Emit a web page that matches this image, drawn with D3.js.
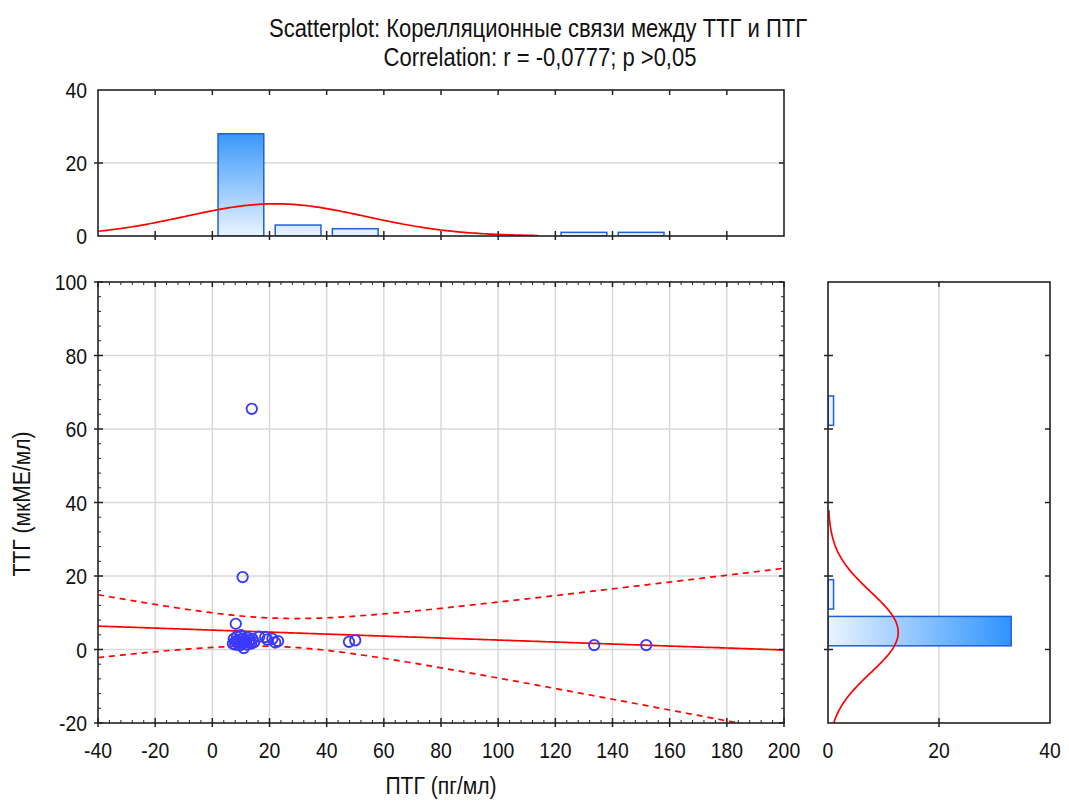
<!DOCTYPE html>
<html>
<head>
<meta charset="utf-8">
<script src="https://cdn.jsdelivr.net/npm/d3@7"></script>
<style>
  html, body { margin: 0; padding: 0; background: #fff; }
  svg text { font-family: "Liberation Sans", Arial, sans-serif; fill: #111; }
</style>
</head>
<body>
<svg id="chart" width="1069" height="801"></svg>
<script>
// ПТГ (pg/ml) and ТТГ (µIU/ml) for each patient
const ptg = [7.2, 7.5, 8.0, 8.3, 8.6, 9.0, 9.3, 9.6, 10.0, 10.2, 10.5, 10.8, 11.0, 11.3, 11.7,
             12.0, 12.4, 12.8, 13.2, 13.6, 14.0, 14.6, 16.4, 18.5, 19.2,
             21.0, 22.0, 23.0, 47.8, 50.0, 133.6, 151.8, 13.8, 10.6, 8.2];
const ttg = [1.6, 2.9, 1.3, 2.3, 3.5, 1.9, 2.7, 1.1, 3.9, 2.1, 1.5, 3.0, 0.4, 2.0, 2.5,
             1.3, 3.2, 1.8, 2.4, 1.6, 2.9, 2.0, 3.5, 3.4, 2.7,
             2.9, 1.9, 2.3, 2.1, 2.5, 1.2, 1.2, 65.5, 19.7, 7.0];
const rValue = -0.0777;

const titleLines = ["Scatterplot: Корелляционные связи между ТТГ и ПТГ",
                    "Correlation: r = -0,0777; p >0,05"];
const xTitle = "ПТГ (пг/мл)";
const yTitle = "ТТГ (мкМЕ/мл)";

const xTicks = [-40, -20, 0, 20, 40, 60, 80, 100, 120, 140, 160, 180, 200];
const yTicks = [-20, 0, 20, 40, 60, 80, 100];
const countTicks = [0, 20, 40];
const xBinWidth = 20, yBinWidth = 10;
const tCrit = 2.0345; // Student t, 0.975, df = 33

const svg = d3.select("#chart");
const defs = svg.append("defs");

// scales
const x = d3.scaleLinear([-40, 200], [98, 784]);
const y = d3.scaleLinear([-20, 100], [723, 282]);
const yTop = d3.scaleLinear([0, 40], [236, 90]);
const xRight = d3.scaleLinear([0, 40], [828, 1050]);

// summary statistics and the least-squares line (slope = r * sy / sx)
const data = ptg.map((v, i) => ({ x: v, y: ttg[i] }));
const n = data.length;
const mx = d3.mean(ptg), my = d3.mean(ttg);
const sx = d3.deviation(ptg), sy = d3.deviation(ttg);
const sxx = d3.sum(ptg, v => (v - mx) ** 2);
const slope = rValue * sy / sx, icpt = my - slope * mx;
const sres = sy * Math.sqrt((1 - rValue * rValue) * (n - 1) / (n - 2));
const normPdf = (v, m, s) => Math.exp(-0.5 * ((v - m) / s) ** 2) / (s * Math.sqrt(2 * Math.PI));
const minCount = 0.12; // fitted curves stop where they meet the axis

// narrow text: Liberation Sans compressed horizontally
const squeeze = 0.88;
function label(g, px, py, str, size, anchor, rot) {
  return g.append("text")
    .attr("transform", `translate(${px},${py})${rot ? ` rotate(${rot})` : ""} scale(${squeeze},1)`)
    .attr("text-anchor", anchor || "middle")
    .style("font-size", size + "px").text(str);
}

// clip paths
function clip(id, x0, y0, x1, y1) {
  defs.append("clipPath").attr("id", id).append("rect")
    .attr("x", x0).attr("y", y0).attr("width", x1 - x0).attr("height", y1 - y0);
}
clip("cMain", 98, 282, 784, 723);
clip("cTop", 98, 90, 784, 236);
clip("cRight", 828, 282, 1050, 723);

// gradients
const gTop = defs.append("linearGradient").attr("id", "gTop")
  .attr("gradientUnits", "userSpaceOnUse")
  .attr("x1", 0).attr("x2", 0).attr("y1", yTop(0)).attr("y2", yTop(28));
gTop.append("stop").attr("offset", 0).attr("stop-color", "#eaf4ff");
gTop.append("stop").attr("offset", 1).attr("stop-color", "#3a98fb");
const gRight = defs.append("linearGradient").attr("id", "gRight")
  .attr("gradientUnits", "userSpaceOnUse")
  .attr("y1", 0).attr("y2", 0).attr("x1", xRight(0)).attr("x2", xRight(33));
gRight.append("stop").attr("offset", 0).attr("stop-color", "#eaf4ff");
gRight.append("stop").attr("offset", 1).attr("stop-color", "#2f93ff");

const grid = "#d9d9d9";

// ---------- title ----------
label(svg, 538, 37, titleLines[0], 25);
label(svg, 540, 66, titleLines[1], 25);

// ticks: major crossing the frame, minor inside
function frameTicks(g, x0, y0, x1, y1, xt, yt, xMinor, yMinor) {
  const t = g.append("g").attr("stroke", "#222");
  xt.forEach(v => {
    t.append("line").attr("x1", v).attr("x2", v).attr("y1", y1 + 4).attr("y2", y1 - 5).attr("stroke-width", 1.5);
    t.append("line").attr("x1", v).attr("x2", v).attr("y1", y0).attr("y2", y0 + 5).attr("stroke-width", 1.5);
  });
  yt.forEach(v => {
    t.append("line").attr("y1", v).attr("y2", v).attr("x1", x0 - 4).attr("x2", x0 + 5).attr("stroke-width", 1.5);
    t.append("line").attr("y1", v).attr("y2", v).attr("x1", x1).attr("x2", x1 - 5).attr("stroke-width", 1.5);
  });
  xMinor.forEach(v => {
    t.append("line").attr("x1", v).attr("x2", v).attr("y1", y1).attr("y2", y1 - 3).attr("stroke-width", 1);
    t.append("line").attr("x1", v).attr("x2", v).attr("y1", y0).attr("y2", y0 + 3).attr("stroke-width", 1);
  });
  yMinor.forEach(v => {
    t.append("line").attr("y1", v).attr("y2", v).attr("x1", x0).attr("x2", x0 + 3).attr("stroke-width", 1);
    t.append("line").attr("y1", v).attr("y2", v).attr("x1", x1).attr("x2", x1 - 3).attr("stroke-width", 1);
  });
  g.append("rect").attr("x", x0).attr("y", y0).attr("width", x1 - x0).attr("height", y1 - y0)
    .attr("fill", "none").attr("stroke", "#222").attr("stroke-width", 1.6);
}

// ---------- main scatter panel ----------
const mainPanel = svg.append("g");
mainPanel.append("g").selectAll("line").data(xTicks.slice(1, -1)).join("line")
  .attr("x1", d => x(d)).attr("x2", d => x(d)).attr("y1", 282).attr("y2", 723)
  .attr("stroke", grid).attr("stroke-width", 1.5);
mainPanel.append("g").selectAll("line").data(yTicks.slice(1, -1)).join("line")
  .attr("y1", d => y(d)).attr("y2", d => y(d)).attr("x1", 98).attr("x2", 784)
  .attr("stroke", grid).attr("stroke-width", 1.5);

const plotArea = mainPanel.append("g").attr("clip-path", "url(#cMain)");
const xs = d3.range(-40, 200.5, 1);
const band = s => d3.line().x(v => x(v))
  .y(v => y(icpt + slope * v + s * tCrit * sres * Math.sqrt(1 / n + (v - mx) ** 2 / sxx)));
plotArea.append("path").datum(xs).attr("d", band(1)).attr("fill", "none")
  .attr("stroke", "#ff0000").attr("stroke-width", 1.7).attr("stroke-dasharray", "6,5");
plotArea.append("path").datum(xs).attr("d", band(-1)).attr("fill", "none")
  .attr("stroke", "#ff0000").attr("stroke-width", 1.7).attr("stroke-dasharray", "6,5");
plotArea.append("path").datum(xs).attr("d", band(0)).attr("fill", "none")
  .attr("stroke", "#ff0000").attr("stroke-width", 1.7);
plotArea.append("g").selectAll("circle").data(data).join("circle")
  .attr("cx", d => x(d.x)).attr("cy", d => y(d.y)).attr("r", 5.2)
  .attr("fill", "none").attr("stroke", "#3a3aff").attr("stroke-width", 1.9);

const minorX = d3.range(-40, 200, 4).filter(v => v % 20 !== 0);
const minorY = d3.range(-20, 100, 4).filter(v => v % 20 !== 0);
frameTicks(mainPanel, 98, 282, 784, 723, xTicks.map(x), yTicks.map(y), minorX.map(x), minorY.map(y));

xTicks.forEach(d => label(mainPanel, x(d), 758, d, 22));
yTicks.forEach(d => label(mainPanel, 87, y(d) + 8, d, 22, "end"));
label(svg, 441, 794, xTitle, 24);
label(svg, 30, 504, yTitle, 24, "middle", -90);

// ---------- top histogram of ПТГ ----------
const topPanel = svg.append("g");
topPanel.append("line").attr("x1", 98).attr("x2", 784).attr("y1", yTop(20)).attr("y2", yTop(20))
  .attr("stroke", grid).attr("stroke-width", 1.5);
const xBins = d3.bin().domain([-40, 200]).thresholds(d3.range(-40, 200, xBinWidth))(ptg)
  .filter(b => b.length > 0);
const topArea = topPanel.append("g").attr("clip-path", "url(#cTop)");
topArea.selectAll("rect").data(xBins).join("rect")
  .attr("x", b => x(b.x0 + xBinWidth * 0.1))
  .attr("width", b => x(b.x1 - xBinWidth * 0.1) - x(b.x0 + xBinWidth * 0.1))
  .attr("y", b => yTop(b.length)).attr("height", b => yTop(0) - yTop(b.length))
  .attr("fill", "url(#gTop)").attr("stroke", "#1f5fd6").attr("stroke-width", 1.5);
const topCurve = d3.range(-40, 200.5, 1).map(v => [v, n * xBinWidth * normPdf(v, mx, sx)])
  .filter(p => p[1] >= minCount);
topArea.append("path").datum(topCurve)
  .attr("d", d3.line().x(p => x(p[0])).y(p => yTop(p[1])))
  .attr("fill", "none").attr("stroke", "#ff0000").attr("stroke-width", 1.7);
frameTicks(topPanel, 98, 90, 784, 236, xTicks.slice(1, -1).map(x), [yTop(20)], [], []);
countTicks.forEach(d => label(topPanel, 87, yTop(d) + 8, d, 22, "end"));

// ---------- right histogram of ТТГ ----------
const rightPanel = svg.append("g");
rightPanel.append("line").attr("x1", xRight(20)).attr("x2", xRight(20)).attr("y1", 282).attr("y2", 723)
  .attr("stroke", grid).attr("stroke-width", 1.5);
const yBins = d3.bin().domain([-20, 100]).thresholds(d3.range(-20, 100, yBinWidth))(ttg)
  .filter(b => b.length > 0);
const rightArea = rightPanel.append("g").attr("clip-path", "url(#cRight)");
rightArea.selectAll("rect").data(yBins).join("rect")
  .attr("y", b => y(b.x1 - yBinWidth * 0.1))
  .attr("height", b => y(b.x0 + yBinWidth * 0.1) - y(b.x1 - yBinWidth * 0.1))
  .attr("x", xRight(0)).attr("width", b => xRight(b.length) - xRight(0))
  .attr("fill", "url(#gRight)").attr("stroke", "#1f5fd6").attr("stroke-width", 1.5);
const rightCurve = d3.range(-20, 100.5, 0.5).map(v => [v, n * yBinWidth * normPdf(v, my, sy)])
  .filter(p => p[1] >= minCount);
rightArea.append("path").datum(rightCurve)
  .attr("d", d3.line().y(p => y(p[0])).x(p => xRight(p[1])))
  .attr("fill", "none").attr("stroke", "#ff0000").attr("stroke-width", 1.7);
frameTicks(rightPanel, 828, 282, 1050, 723, [xRight(20)], yTicks.slice(1, -1).map(y), [], []);
countTicks.forEach(d => label(rightPanel, xRight(d), 758, d, 22));
</script>
</body>
</html>
